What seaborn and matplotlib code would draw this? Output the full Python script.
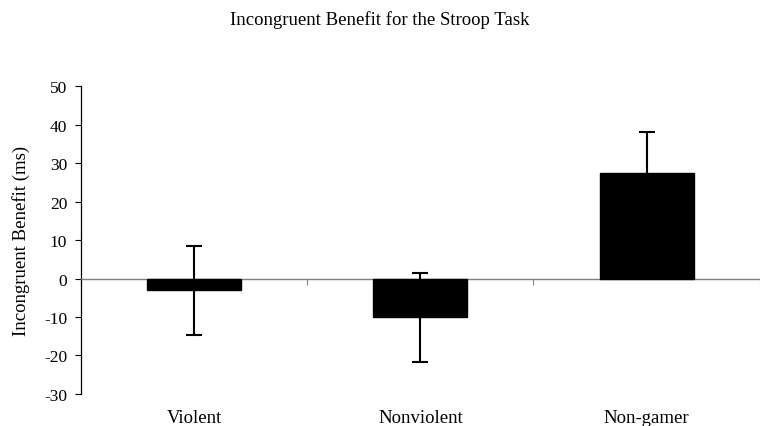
import matplotlib
matplotlib.use("Agg")
import matplotlib.pyplot as plt
import seaborn as sns
import pandas as pd
import numpy as np

groups = ["Violent", "Nonviolent", "Non-gamer"]
benefit = [-3.1, -10.1, 27.3]
sem = [11.5, 11.5, 10.9]
yticks = [-30, -20, -10, 0, 10, 20, 30, 40, 50]

sns.set_theme(style="white")
plt.rcParams["font.family"] = ["Liberation Serif", "DejaVu Serif"]
plt.rcParams["text.color"] = "black"
plt.rcParams["axes.labelcolor"] = "black"
plt.rcParams["xtick.color"] = "black"
plt.rcParams["ytick.color"] = "black"

df = pd.DataFrame({"group": groups, "benefit": benefit})

fig = plt.figure(figsize=(7.6, 4.27), dpi=100)
ax = fig.add_axes([0.1066, 0.075, 0.893, 0.721])

sns.barplot(data=df, x="group", y="benefit", color="black", saturation=1,
            width=0.415, errorbar=None, ax=ax, zorder=3)
for p in ax.patches:
    p.set_edgecolor("black")
ax.errorbar(np.arange(len(groups)), benefit, yerr=sem, fmt="none",
            ecolor="black", elinewidth=1.5, capsize=6, capthick=1.5, zorder=2)

ax.set_xlim(-0.5, len(groups) - 0.5)
ax.set_ylim(-30, 50)
ax.set_yticks(yticks)
ax.set_yticklabels([str(v) for v in yticks], fontsize=12.5)
ax.tick_params(axis="y", direction="out", length=4, width=0.8, color="black",
               left=True, pad=6)

# zero baseline carries the category separators
for side in ["top", "right"]:
    ax.spines[side].set_visible(False)
ax.spines["left"].set_color("black")
ax.spines["left"].set_linewidth(0.9)
ax.spines["bottom"].set_position(("data", 0))
ax.spines["bottom"].set_color("#7f7f7f")
ax.spines["bottom"].set_linewidth(1.0)
ax.set_xticks(np.arange(len(groups) + 1) - 0.5)
ax.set_xticklabels([])
ax.tick_params(axis="x", direction="out", length=4, width=0.8,
               color="#7f7f7f", bottom=True)

# category names sit below the plot area
lab = ax.secondary_xaxis(0.0)
lab.set_xticks(np.arange(len(groups)))
lab.set_xticklabels(groups, fontsize=13.5)
lab.tick_params(length=0, pad=11)
lab.spines["bottom"].set_visible(False)

ax.set_xlabel("")
ax.set_ylabel("Incongruent Benefit (ms)", fontsize=13.5, labelpad=10)
fig.suptitle("Incongruent Benefit for the Stroop Task", fontsize=13.5, y=0.975)

fig.savefig("out.png", dpi=100)
